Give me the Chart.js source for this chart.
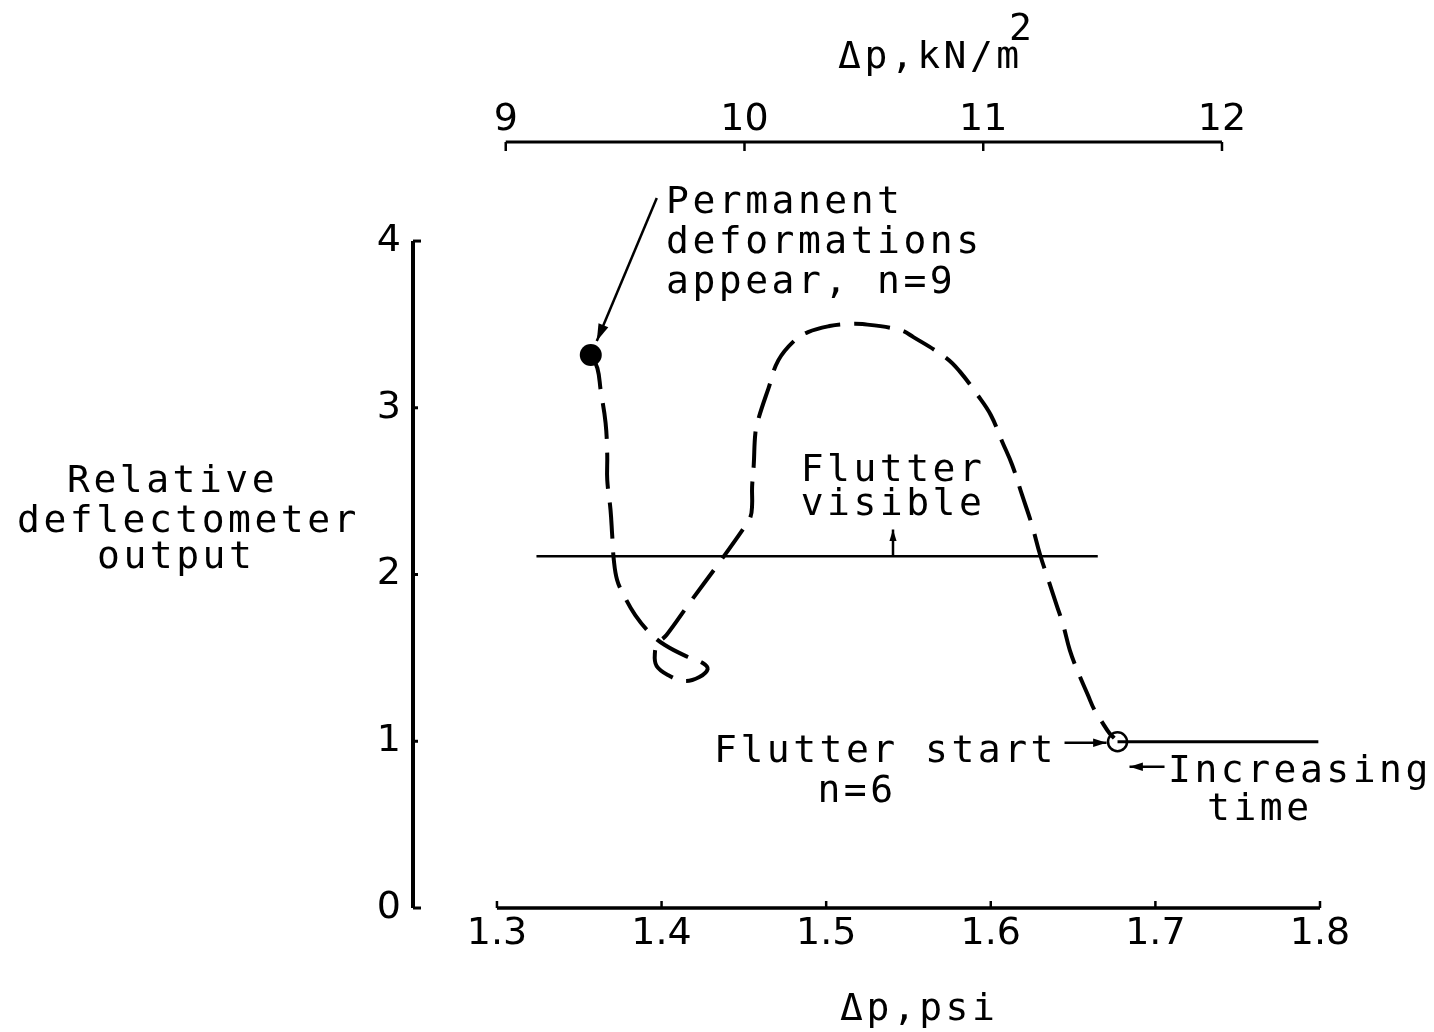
<!DOCTYPE html>
<html>
<head>
<meta charset="utf-8">
<script src="https://cdn.jsdelivr.net/npm/chart.js@4.4.1/dist/chart.umd.min.js"></script>
<style>
  html, body { margin: 0; padding: 0; background: #fff; }
  canvas { display: block; }
</style>
</head>
<body>
<canvas id="flutterChart" width="1434" height="1032" style="width:1434px;height:1032px"></canvas>
<script>
// ----------------------
// DATA
// ----------------------
const KPA_PER_PSI = 6.89476;

const psiTicks = [1.3, 1.4, 1.5, 1.6, 1.7, 1.8];
const kpaTicks = [9, 10, 11, 12];
const outputTicks = [0, 1, 2, 3, 4];

// dashed trace, in order of increasing time
const curvePsi = [
  1.357, 1.361, 1.363, 1.366, 1.367, 1.367, 1.369, 1.370, 1.371, 1.373,
  1.377, 1.384, 1.393, 1.402, 1.416, 1.425, 1.428, 1.423, 1.414, 1.405,
  1.397, 1.396, 1.398, 1.403, 1.417, 1.434, 1.450, 1.454, 1.455, 1.455,
  1.456, 1.457, 1.459, 1.465, 1.471, 1.481, 1.489, 1.502, 1.512, 1.522,
  1.545, 1.553, 1.573, 1.581, 1.592, 1.600, 1.607, 1.613, 1.619, 1.625,
  1.630, 1.635, 1.640, 1.644, 1.648, 1.653, 1.659, 1.663, 1.668, 1.672,
  1.675
];
const curveOutput = [
  3.316, 3.238, 3.106, 2.909, 2.717, 2.567, 2.387, 2.237, 2.087, 1.967,
  1.877, 1.757, 1.649, 1.577, 1.505, 1.469, 1.433, 1.385, 1.361, 1.391,
  1.451, 1.535, 1.589, 1.637, 1.829, 2.057, 2.279, 2.345, 2.417, 2.525,
  2.657, 2.849, 2.939, 3.118, 3.286, 3.406, 3.454, 3.490, 3.502, 3.502,
  3.466, 3.424, 3.298, 3.220, 3.076, 2.957, 2.795, 2.657, 2.477, 2.297,
  2.117, 1.967, 1.817, 1.697, 1.547, 1.415, 1.277, 1.187, 1.109, 1.049,
  1.019
];

// "Flutter visible" threshold line
const visiblePsi = [1.324, 1.665];
const visibleOutput = [2.11, 2.11];

// level after flutter start
const afterStartPsi = [1.677, 1.799];
const afterStartOutput = [0.997, 0.997];

// marked points
const deformPsi = [1.357];
const deformOutput = [3.316];
const startPsi = [1.677];
const startOutput = [0.997];

// ----------------------
// UTILITIES
// ----------------------
function toPoints(xs, ys) {
  return xs.map((x, i) => ({ x: x, y: ys[i] }));
}

const LETTER_FONT = '38px "DejaVu Sans Mono"';

function letter(ctx, str, x, y, align) {
  ctx.textAlign = align || "left";
  ctx.textBaseline = "alphabetic";
  ctx.fillText(str, x, y);
}

function arrow(ctx, x1, y1, x2, y2, head) {
  ctx.beginPath();
  ctx.moveTo(x1, y1);
  ctx.lineTo(x2, y2);
  ctx.stroke();
  const a = Math.atan2(y2 - y1, x2 - x1);
  ctx.beginPath();
  ctx.moveTo(x2, y2);
  ctx.lineTo(x2 - head * Math.cos(a - 0.3), y2 - head * Math.sin(a - 0.3));
  ctx.lineTo(x2 - head * Math.cos(a + 0.3), y2 - head * Math.sin(a + 0.3));
  ctx.closePath();
  ctx.fill();
}

// ----------------------
// AXES + LETTERING PLUGIN
// ----------------------
const paperPlugin = {
  id: "paper",
  afterDraw(chart) {
    const ctx = chart.ctx;
    const xs = chart.scales.x;
    const x2 = chart.scales.x2;
    const ys = chart.scales.y;
    const area = chart.chartArea;

    ctx.save();
    ctx.strokeStyle = "#000";
    ctx.fillStyle = "#000";
    ctx.lineCap = "butt";

    // left axis
    const lx = area.left;
    ctx.lineWidth = 4;
    ctx.beginPath();
    ctx.moveTo(lx, ys.getPixelForValue(0));
    ctx.lineTo(lx, ys.getPixelForValue(4));
    ctx.stroke();
    ctx.lineWidth = 3;
    outputTicks.forEach(v => {
      const y = ys.getPixelForValue(v);
      const len = (v === 0 || v === 4) ? 8 : 5;
      ctx.beginPath();
      ctx.moveTo(lx, y);
      ctx.lineTo(lx + len, y);
      ctx.stroke();
    });

    // bottom axis (psi)
    const by = ys.getPixelForValue(0);
    ctx.lineWidth = 3.5;
    ctx.beginPath();
    ctx.moveTo(xs.getPixelForValue(psiTicks[0]), by);
    ctx.lineTo(xs.getPixelForValue(psiTicks[psiTicks.length - 1]), by);
    ctx.stroke();
    ctx.lineWidth = 2.5;
    psiTicks.forEach(v => {
      const x = xs.getPixelForValue(v);
      ctx.beginPath();
      ctx.moveTo(x, by);
      ctx.lineTo(x, by - 7);
      ctx.stroke();
    });

    // top axis (kN/m^2)
    const ty = area.top;
    ctx.lineWidth = 3;
    ctx.beginPath();
    ctx.moveTo(x2.getPixelForValue(kpaTicks[0]), ty);
    ctx.lineTo(x2.getPixelForValue(kpaTicks[kpaTicks.length - 1]), ty);
    ctx.stroke();
    ctx.lineWidth = 2.5;
    kpaTicks.forEach(v => {
      const x = x2.getPixelForValue(v);
      ctx.beginPath();
      ctx.moveTo(x, ty);
      ctx.lineTo(x, ty + 9);
      ctx.stroke();
    });

    // arrows
    ctx.lineWidth = 2.5;
    const dx = xs.getPixelForValue(deformPsi[0]);
    const dy = ys.getPixelForValue(deformOutput[0]);
    arrow(ctx, dx + 66, dy - 157, dx + 6, dy - 14, 18);

    const vx = xs.getPixelForValue(1.5406);
    arrow(ctx, vx, ys.getPixelForValue(visibleOutput[0]) - 1, vx, ys.getPixelForValue(2.27), 12);

    const cx = xs.getPixelForValue(startPsi[0]);
    const cy = ys.getPixelForValue(startOutput[0]);
    arrow(ctx, cx - 53, cy + 1, cx - 11, cy + 1, 14);
    arrow(ctx, cx + 47, cy + 25, cx + 12, cy + 25, 14);

    // lettering
    ctx.font = LETTER_FONT;
    ctx.letterSpacing = "3.5px";

    letter(ctx, "Relative", 67, 492);
    letter(ctx, "deflectometer", 17, 532);
    letter(ctx, "output", 97, 568);

    letter(ctx, "Permanent", 666, 213);
    letter(ctx, "deformations", 666, 253);
    letter(ctx, "appear, n=9", 666, 293);

    letter(ctx, "Flutter", 893, 481, "center");
    letter(ctx, "visible", 893, 515, "center");

    letter(ctx, "Flutter start", 714, 762);
    letter(ctx, "n=6", 857, 802, "center");

    letter(ctx, "Increasing", 1168, 782);
    letter(ctx, "time", 1207, 820);

    letter(ctx, "\u0394p,psi", 840, 1020);
    letter(ctx, "\u0394p,kN/m", 838, 68);
    letter(ctx, "2", 1009, 40);

    ctx.restore();
  }
};

// ----------------------
// CHART
// ----------------------
Chart.defaults.font.family = '"DejaVu Sans"';
Chart.defaults.color = "#000";

const tickFont = { size: 38, family: '"DejaVu Sans"' };

const flutterChart = new Chart(document.getElementById("flutterChart").getContext("2d"), {
  type: "scatter",
  data: {
    datasets: [
      {
        data: toPoints(deformPsi, deformOutput),
        pointRadius: 11,
        pointBackgroundColor: "#000",
        pointBorderWidth: 0
      },
      {
        data: toPoints(startPsi, startOutput),
        pointRadius: 9.5,
        pointBackgroundColor: "rgba(0,0,0,0)",
        pointBorderColor: "#000",
        pointBorderWidth: 2.5
      },
      {
        data: toPoints(curvePsi, curveOutput),
        showLine: true,
        borderColor: "#000",
        borderWidth: 4,
        borderDash: [36, 14],
        tension: 0.4,
        pointRadius: 0
      },
      {
        data: toPoints(visiblePsi, visibleOutput),
        showLine: true,
        borderColor: "#000",
        borderWidth: 2.5,
        pointRadius: 0
      },
      {
        data: toPoints(afterStartPsi, afterStartOutput),
        showLine: true,
        borderColor: "#000",
        borderWidth: 3,
        pointRadius: 0
      }
    ]
  },
  options: {
    responsive: false,
    animation: false,
    events: [],
    layout: { padding: { left: 363, right: 114, top: 82, bottom: 64 } },
    plugins: {
      legend: { display: false },
      tooltip: { enabled: false }
    },
    scales: {
      x: {
        type: "linear",
        position: "bottom",
        min: 1.249,
        max: 1.8,
        afterBuildTicks: axis => { axis.ticks = psiTicks.map(v => ({ value: v })); },
        afterFit: axis => { axis.height = 60; },
        grid: { display: false },
        border: { display: false },
        ticks: {
          padding: -5,
          autoSkip: false,
          maxRotation: 0,
          font: tickFont,
          color: "#000",
          callback: v => v.toFixed(1)
        }
      },
      x2: {
        type: "linear",
        position: "top",
        min: 1.249 * KPA_PER_PSI,
        max: 1.8 * KPA_PER_PSI,
        afterBuildTicks: axis => { axis.ticks = kpaTicks.map(v => ({ value: v })); },
        afterFit: axis => { axis.height = 60; },
        grid: { display: false },
        border: { display: false },
        ticks: {
          padding: -9,
          autoSkip: false,
          maxRotation: 0,
          font: tickFont,
          color: "#000",
          callback: v => String(v)
        }
      },
      y: {
        type: "linear",
        position: "left",
        min: 0,
        max: 4.594,
        afterBuildTicks: axis => { axis.ticks = outputTicks.map(v => ({ value: v })); },
        afterFit: axis => { axis.width = 50; },
        grid: { display: false },
        border: { display: false },
        ticks: {
          padding: 4,
          autoSkip: false,
          font: tickFont,
          color: "#000",
          callback: v => String(v)
        }
      }
    }
  },
  plugins: [paperPlugin]
});
</script>
</body>
</html>
